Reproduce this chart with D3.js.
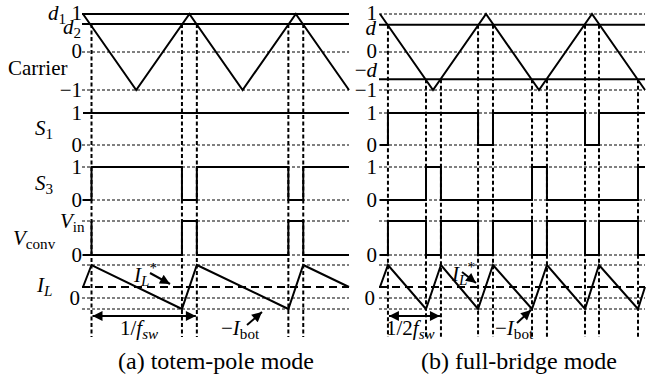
<!DOCTYPE html>
<html>
<head>
<meta charset="utf-8">
<script src="https://cdn.jsdelivr.net/npm/d3@7"></script>
</head>
<body style="margin:0">
<div id="chart"></div>
<script>
const width = 666;
const height = 381;
const FONT = '"Liberation Serif"';

// time in carrier periods, 2.5 periods per panel
const carrierT = [0, 0.5, 1, 1.5, 2, 2.5];
const carrierV = [1, -1, 1, -1, 1, -1];

// (a) totem-pole mode
const tpD1 = 1;
const tpD2 = 0.74;
const tpEdges = [0.08, 0.93, 1.07, 1.93, 2.07];
const tpS1Edges = [0, 2.5];
const tpS1Levels = [1];
const tpS3Edges = [0, 0.08, 0.93, 1.07, 1.93, 2.07, 2.5];
const tpS3Levels = [0, 1, 0, 1, 0, 1];
const tpVEdges = [0, 0.08, 0.08, 0.93, 1.07, 1.93, 2.07, 2.5];
const tpVLevels = [0, 1, 0, 1, 0, 1, 0];
const tpILT = [0, 0.08, 0.93, 1.07, 1.93, 2.07, 2.5];
const tpILV = [1, 3, -1, 3, -1, 3, 1];

// (b) full-bridge mode
const fbD = 0.72;
const fbEdgesUp = [0.075, 0.925, 1.066, 1.934, 2.066];   // crossing +d
const fbEdgesDown = [0.434, 0.575, 1.434, 1.575, 2.434]; // crossing -d
const fbS1Edges = [0, 0.075, 0.925, 1.066, 1.934, 2.066, 2.5];
const fbS1Levels = [0, 1, 0, 1, 0, 1];
const fbS3Edges = [0, 0.434, 0.575, 1.434, 1.575, 2.434, 2.5];
const fbS3Levels = [0, 1, 0, 1, 0, 1];
const fbVEdges = [0, 0.075, 0.434, 0.575, 0.925, 1.066, 1.434, 1.575, 1.934, 2.066, 2.434, 2.5];
const fbVLevels = [0, 1, 0, 1, 0, 1, 0, 1, 0, 1, 0];
const fbILT = [0, 0.075, 0.434, 0.575, 0.925, 1.066, 1.434, 1.575, 1.934, 2.066, 2.434, 2.5];
const fbILV = [1, 3, -1, 3, -1, 3, -1, 3, -1, 3, -1, 1];

// IL levels: peak, reference, zero, bottom
const ilTop = 3, ilRef = 1, ilBot = -1;

const captions = ["(a) totem-pole mode", "(b) full-bridge mode"];

const svg = d3.select("#chart").append("svg")
    .attr("width", width)
    .attr("height", height);

const defs = svg.append("defs");
defs.append("marker")
    .attr("id", "arr")
    .attr("viewBox", "0 0 10 10")
    .attr("refX", 10).attr("refY", 5)
    .attr("markerWidth", 6).attr("markerHeight", 5)
    .attr("markerUnits", "strokeWidth")
    .attr("orient", "auto-start-reverse")
    .append("path").attr("d", "M0,0L10,5L0,10z").attr("fill", "#000");

// row scales
const yCar = d3.scaleLinear().domain([-1, 1]).range([90, 14]);
const yS1 = d3.scaleLinear().domain([0, 1]).range([145, 113]);
const yS3 = d3.scaleLinear().domain([0, 1]).range([200, 167]);
const yV = d3.scaleLinear().domain([0, 1]).range([255, 221]);
const yIL = d3.scaleLinear().domain([-1, 3]).range([309, 265]);
const guideBottom = 337;

const xA = d3.scaleLinear().domain([0, 2.5]).range([83, 349]);
const xB = d3.scaleLinear().domain([0, 2.5]).range([380, 645]);

function stepPts(edges, levels) {
    const pts = [];
    levels.forEach((v, i) => {
        pts.push([edges[i], v]);
        pts.push([edges[i + 1], v]);
    });
    return pts;
}

function hline(g, x, y, v, kind) {
    const l = g.append("line")
        .attr("x1", x.range()[0] - 1).attr("x2", x.range()[1])
        .attr("y1", y(v)).attr("y2", y(v))
        .attr("stroke", "#000");
    if (kind === "solid") l.attr("stroke-width", 2);
    else if (kind === "dash") l.attr("stroke-width", 2).attr("stroke-dasharray", "8,5");
    else l.attr("stroke-width", 1).attr("stroke-dasharray", "3,2");
}

function trace(g, x, y, pts) {
    g.append("path")
        .datum(pts)
        .attr("fill", "none")
        .attr("stroke", "#000")
        .attr("stroke-width", 2)
        .attr("d", d3.line().x(d => x(d[0])).y(d => y(d[1])));
}

function vguide(g, x, t, yTop) {
    g.append("line")
        .attr("x1", x(t)).attr("x2", x(t))
        .attr("y1", yTop).attr("y2", guideBottom)
        .attr("stroke", "#000")
        .attr("stroke-width", 2)
        .attr("stroke-dasharray", "4,2.5");
}

function label(g, xr, yb, parts, anchor, size) {
    const fs = size || 21;
    const t = g.append("text")
        .attr("x", xr).attr("y", yb)
        .style("font-family", FONT)
        .attr("font-size", fs)
        .attr("text-anchor", anchor || "end");
    parts.forEach(p => {
        const s = t.append("tspan").text(p.t);
        if (p.i) s.attr("font-style", "italic");
        if (p.sub) s.attr("font-size", fs * 0.72).attr("dy", 4);
        if (p.sup) s.attr("font-size", fs * 0.72).attr("dy", -13);
    });
    return t;
}

function arrow(g, x1, y1, x2, y2, both) {
    const l = g.append("line")
        .attr("x1", x1).attr("y1", y1).attr("x2", x2).attr("y2", y2)
        .attr("stroke", "#000").attr("stroke-width", 2)
        .attr("marker-end", "url(#arr)");
    if (both) l.attr("marker-start", "url(#arr)");
}

function ticks(g, xr) {
    // y tick numbers for the signal rows
    [[yS1, 1], [yS1, 0], [yS3, 1], [yS3, 0], [yV, 0]].forEach(([y, v]) => {
        label(g, xr, y(v) + 7, [{t: String(v)}]);
    });
    label(g, xr - 2, yIL(0) + 7, [{t: "0"}]);
    label(g, xr, yCar(0) + 6, [{t: "0"}]);
}

// ---------- (a) totem-pole ----------
const ga = svg.append("g");
hline(ga, xA, yCar, tpD1, "solid");
hline(ga, xA, yCar, tpD2, "solid");
hline(ga, xA, yCar, 0);
hline(ga, xA, yCar, -1);
hline(ga, xA, yS1, 0);
hline(ga, xA, yS3, 1);
hline(ga, xA, yS3, 0);
hline(ga, xA, yV, 1);
hline(ga, xA, yV, 0);
hline(ga, xA, yIL, ilTop);
hline(ga, xA, yIL, 0);
hline(ga, xA, yIL, ilBot);
hline(ga, xA, yIL, ilRef, "dash");

tpEdges.forEach(t => vguide(ga, xA, t, yCar(tpD2)));

trace(ga, xA, yCar, carrierT.map((t, i) => [t, carrierV[i]]));
trace(ga, xA, yS1, stepPts(tpS1Edges, tpS1Levels));
trace(ga, xA, yS3, stepPts(tpS3Edges, tpS3Levels));
trace(ga, xA, yV, stepPts(tpVEdges, tpVLevels));
trace(ga, xA, yIL, tpILT.map((t, i) => [t, tpILV[i]]));

ticks(ga, 82);
label(ga, 82, 20, [{t: "1"}]);
label(ga, 48, 20, [{t: "d", i: true}, {t: "1", sub: true}], "start");
label(ga, 63, 34, [{t: "d", i: true}, {t: "2", sub: true}], "start");
label(ga, 82, 97, [{t: "\u22121"}]);
label(ga, 8, 75, [{t: "Carrier"}], "start");
label(ga, 35, 135, [{t: "S", i: true}, {t: "1", sub: true}], "start");
label(ga, 35, 190, [{t: "S", i: true}, {t: "3", sub: true}], "start");
label(ga, 60, 228, [{t: "V", i: true}, {t: "in", sub: true}], "start");
label(ga, 13, 245, [{t: "V", i: true}, {t: "conv", sub: true}], "start");
label(ga, 37, 292, [{t: "I", i: true}, {t: "L", i: true, sub: true}], "start");

// annotations
label(ga, 134, 282, [{t: "I", i: true}, {t: "L", i: true, sub: true}, {t: "*", sup: true}], "start");
arrow(ga, 150, 273, 170, 284);
arrow(ga, xA(tpEdges[0]) + 1, 316, xA(tpEdges[2]) - 1, 316, true);
label(ga, 120, 335, [{t: "1/"}, {t: "f", i: true}, {t: "sw", i: true, sub: true}], "start");
label(ga, 221, 335, [{t: "\u2212"}, {t: "I", i: true}, {t: "bot", sub: true}], "start");
arrow(ga, 247, 325, 262, 312);

// ---------- (b) full-bridge ----------
const gb = svg.append("g");
hline(gb, xB, yCar, 1);
hline(gb, xB, yCar, fbD, "solid");
hline(gb, xB, yCar, 0);
hline(gb, xB, yCar, -fbD, "solid");
hline(gb, xB, yCar, -1);
hline(gb, xB, yS1, 1);
hline(gb, xB, yS1, 0);
hline(gb, xB, yS3, 1);
hline(gb, xB, yS3, 0);
hline(gb, xB, yV, 1);
hline(gb, xB, yV, 0);
hline(gb, xB, yIL, ilTop);
hline(gb, xB, yIL, 0);
hline(gb, xB, yIL, ilBot);
hline(gb, xB, yIL, ilRef, "dash");

fbEdgesUp.forEach(t => vguide(gb, xB, t, yCar(fbD)));
fbEdgesDown.forEach(t => vguide(gb, xB, t, yCar(-fbD)));

trace(gb, xB, yCar, carrierT.map((t, i) => [t, carrierV[i]]));
trace(gb, xB, yS1, stepPts(fbS1Edges, fbS1Levels));
trace(gb, xB, yS3, stepPts(fbS3Edges, fbS3Levels));
trace(gb, xB, yV, stepPts(fbVEdges, fbVLevels));
trace(gb, xB, yIL, fbILT.map((t, i) => [t, fbILV[i]]));

ticks(gb, 377);
label(gb, 377, 20, [{t: "1"}]);
label(gb, 376, 35, [{t: "d", i: true}]);
label(gb, 377, 77, [{t: "\u2212"}, {t: "d", i: true}]);
label(gb, 377, 97, [{t: "\u22121"}]);

label(gb, 452, 281, [{t: "I", i: true}, {t: "L", i: true, sub: true}, {t: "*", sup: true}], "start");
arrow(gb, 462, 272, 476, 283);
arrow(gb, xB(fbEdgesUp[0]) + 1, 316, xB(fbEdgesDown[1]) - 1, 316, true);
label(gb, 386, 335, [{t: "1/2"}, {t: "f", i: true}, {t: "sw", i: true, sub: true}], "start");
label(gb, 495, 335, [{t: "\u2212"}, {t: "I", i: true}, {t: "bot", sub: true}], "start");
arrow(gb, 517, 323, 531, 310);

// captions
svg.selectAll(".cap")
    .data(captions)
    .join("text")
    .attr("class", "cap")
    .attr("x", (d, i) => i === 0 ? 216 : 519)
    .attr("y", 369)
    .style("font-family", FONT)
    .attr("font-size", 24)
    .attr("text-anchor", "middle")
    .text(d => d);
</script>
</body>
</html>
